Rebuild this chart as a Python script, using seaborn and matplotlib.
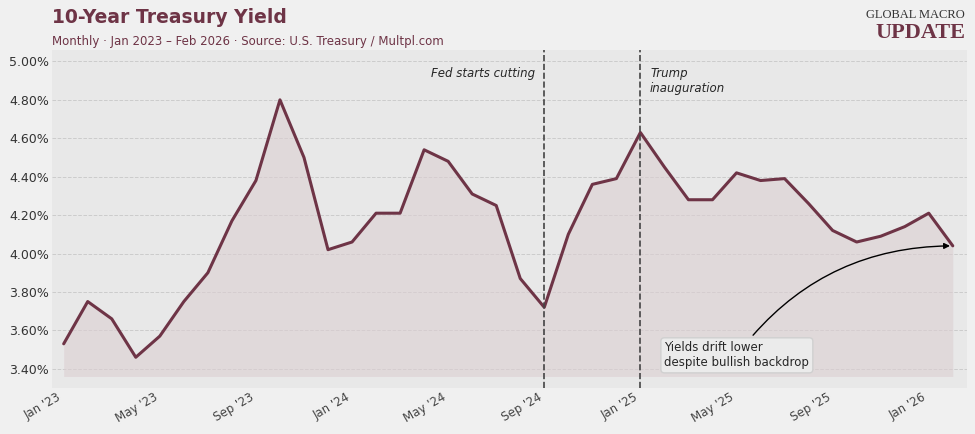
import numpy as np
import pandas as pd
import matplotlib
matplotlib.use("Agg")
import matplotlib.pyplot as plt
import seaborn as sns

months = pd.date_range("2023-01-01", "2026-02-01", freq="MS")
yields = [3.53, 3.75, 3.66, 3.46, 3.57, 3.75, 3.90, 4.17, 4.38, 4.80, 4.50, 4.02,
          4.06, 4.21, 4.21, 4.54, 4.48, 4.31, 4.25, 3.87, 3.72, 4.10, 4.36, 4.39,
          4.63, 4.45, 4.28, 4.28, 4.42, 4.38, 4.39, 4.26, 4.12, 4.06, 4.09, 4.14,
          4.21, 4.04]
tick_labels = ["Jan '23", "May '23", "Sep '23", "Jan '24", "May '24", "Sep '24",
               "Jan '25", "May '25", "Sep '25", "Jan '26"]
events = {20: "Fed starts cutting", 24: "Trump\ninauguration"}

df = pd.DataFrame({"idx": np.arange(len(yields)), "month": months, "yield": yields})

sns.set_theme(style="whitegrid")
plt.rcParams["font.family"] = ["DejaVu Sans"]
col = "#6e3446"

fig = plt.figure(figsize=(9.75, 4.34), dpi=100, facecolor="#f0f0f0")
ax = fig.add_axes([0.053, 0.106, 0.939, 0.779])
ax.set_facecolor("#e8e8e8")

ax.fill_between(df["idx"], 3.36, df["yield"], color="#dccfd2", alpha=0.6, lw=0)
sns.lineplot(data=df, x="idx", y="yield", color=col, lw=2.2, ax=ax)

for i, lab in events.items():
    ax.axvline(i, color="#444444", ls="--", lw=1.2)
    if i == 20:
        ax.text(i - 0.4, 4.97, lab, ha="right", va="top", style="italic", fontsize=8.5)
    else:
        ax.text(i + 0.4, 4.97, lab, ha="left", va="top", style="italic", fontsize=8.5)

ax.annotate("Yields drift lower\ndespite bullish backdrop", xy=(37, yields[-1]),
            xytext=(25, 3.47), fontsize=8.5, va="center",
            bbox=dict(boxstyle="round,pad=0.3", fc="#ebebeb", ec="#d0d0d0"),
            arrowprops=dict(arrowstyle="-|>", color="black", lw=1,
                            connectionstyle="arc3,rad=-0.25", shrinkA=2))

ax.set_xlim(-0.5, 37.6)
ax.set_ylim(3.30, 5.06)
ax.set_yticks(np.arange(3.4, 5.01, 0.2))
ax.set_yticklabels([f"{v:.2f}%" for v in np.arange(3.4, 5.01, 0.2)], fontsize=9, color="#333333")
ax.set_xticks(np.arange(0, 37, 4))
ax.set_xticklabels(tick_labels, rotation=30, ha="right", fontsize=8.5, color="#444444")
ax.grid(axis="y", color="#cccccc", ls="--", lw=0.7)
ax.grid(axis="x", visible=False)
ax.set_xlabel("")
ax.set_ylabel("")
for s in ax.spines.values():
    s.set_visible(False)
ax.tick_params(length=0, pad=2)

fig.text(0.053, 0.96, "10-Year Treasury Yield", fontsize=13.5, fontweight="bold", color=col, va="center")
fig.text(0.053, 0.905, "Monthly · Jan 2023 – Feb 2026 · Source: U.S. Treasury / Multpl.com",
         fontsize=8.5, color=col, va="center")
fig.text(0.99, 0.965, "GLOBAL MACRO", fontsize=9, color="#333333", ha="right", va="center",
         family="Liberation Serif")
fig.text(0.99, 0.925, "UPDATE", fontsize=16, color=col, ha="right", va="center",
         family="Liberation Serif", fontweight="bold")

fig.savefig("out.png", dpi=100, facecolor=fig.get_facecolor())
